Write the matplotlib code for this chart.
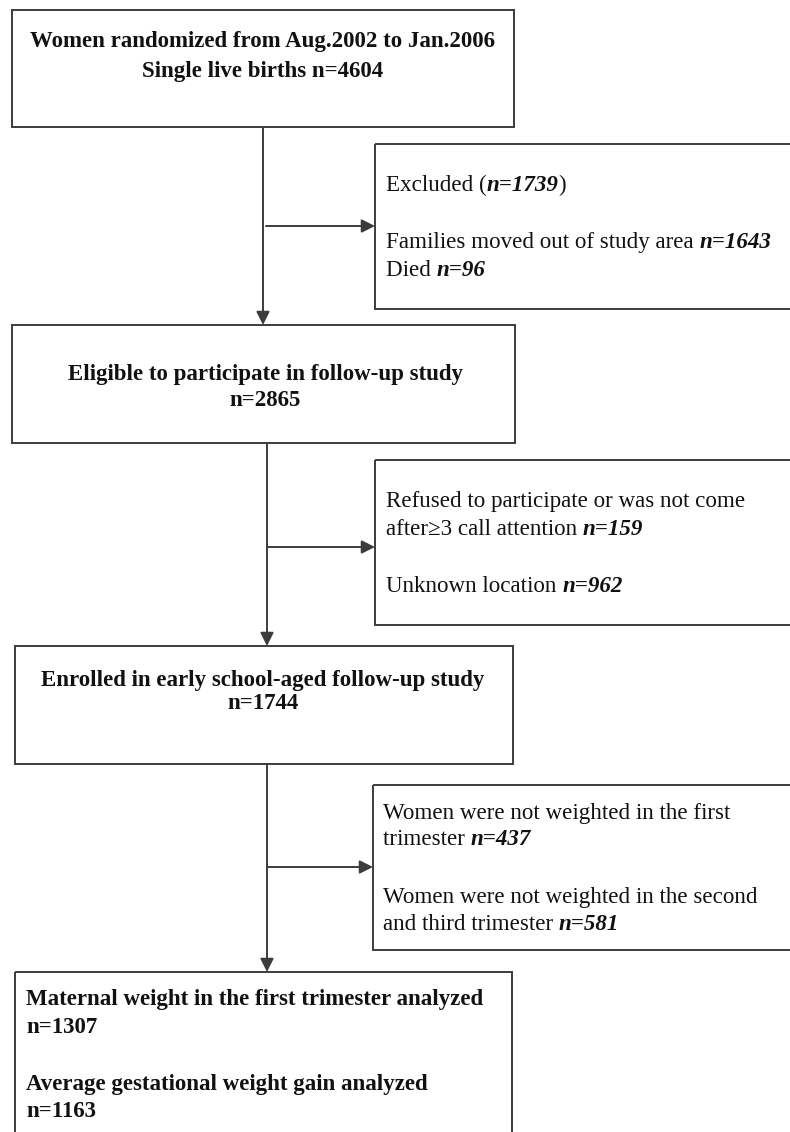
import matplotlib
matplotlib.use("Agg")
import matplotlib.pyplot as plt
from matplotlib.patches import Rectangle

# ---- data ----
randomized_n = 4604
excluded_n = 1739
moved_n = 1643
died_n = 96
eligible_n = 2865
refused_n = 159
unknown_n = 962
enrolled_n = 1744
no_first_n = 437
no_second_n = 581
analyzed_first_n = 1307
analyzed_gain_n = 1163

FAM = ['Liberation Serif', 'DejaVu Serif']
LC = '#3c3c3c'
W, H = 790, 1132

fig = plt.figure(figsize=(W / 100, H / 100), dpi=100)
ax = fig.add_axes([0, 0, 1, 1])
ax.set_xlim(0, W)
ax.set_ylim(H, 0)
ax.axis('off')
renderer = fig.canvas.get_renderer()


def box(x0, y0, x1, y1):
    ax.add_patch(Rectangle((x0, y0), x1 - x0, y1 - y0, fill=False,
                           edgecolor=LC, lw=1.4, clip_on=False))


def arrow(x0, y0, x1, y1):
    ax.annotate('', xy=(x1, y1), xytext=(x0, y0),
                arrowprops=dict(arrowstyle='-|>', color=LC, lw=1.4,
                                mutation_scale=20, shrinkA=0, shrinkB=0))


STY = {
    'r': dict(fontweight='normal', fontstyle='normal'),
    'b': dict(fontweight='bold', fontstyle='normal'),
    'bi': dict(fontweight='bold', fontstyle='italic'),
}


def runs(x, y, parts, size=15, ha='left'):
    arts = []
    for txt, st in parts:
        t = ax.text(0, y, txt, fontsize=size, family=FAM, va='baseline',
                    ha='left', color='#111111', **STY[st])
        arts.append(t)
    widths = [a.get_window_extent(renderer).width for a in arts]
    total = sum(widths)
    cx = x - total / 2 if ha == 'center' else x
    for a, w in zip(arts, widths):
        a.set_x(cx)
        cx += w


# ---- boxes ----
box(12, 10, 514, 127)
box(375, 144, 800, 309)
box(12, 325, 515, 443)
box(375, 460, 800, 625)
box(15, 646, 513, 764)
box(373, 785, 800, 950)
box(15, 972, 512, 1140)

# ---- connectors ----
arrow(263, 127, 263, 325)
arrow(266, 226, 375, 226)
arrow(267, 443, 267, 646)
arrow(267, 547, 375, 547)
arrow(267, 764, 267, 972)
arrow(267, 867, 373, 867)

# ---- texts ----
BS = 16.5
runs(263, 47, [('Women randomized from Aug.2002 to Jan.2006', 'b')], BS, 'center')
runs(263, 77, [(f'Single live births n={randomized_n}', 'b')], BS, 'center')

RS = 16.6
runs(386, 191, [('Excluded (', 'r'), (f'n={excluded_n}', 'bi'), (')', 'r')], RS)
runs(386, 248, [('Families moved out of study area ', 'r'), (f'n={moved_n}', 'bi')], RS)
runs(386, 276, [('Died ', 'r'), (f'n={died_n}', 'bi')], RS)

runs(265, 380, [('Eligible to participate in follow-up study', 'b')], BS, 'center')
runs(265, 406, [(f'n={eligible_n}', 'b')], BS, 'center')

runs(386, 507, [('Refused to participate or was not come', 'r')], RS)
runs(386, 535, [('after\u22653 call attention ', 'r'), (f'n={refused_n}', 'bi')], RS)
runs(386, 592, [('Unknown location ', 'r'), (f'n={unknown_n}', 'bi')], RS)

runs(263, 686, [('Enrolled in early school-aged follow-up study', 'b')], BS, 'center')
runs(263, 709, [(f'n={enrolled_n}', 'b')], BS, 'center')

runs(383, 819, [('Women were not weighted in the first', 'r')], RS)
runs(383, 845, [('trimester ', 'r'), (f'n={no_first_n}', 'bi')], RS)
runs(383, 903, [('Women were not weighted in the second', 'r')], RS)
runs(383, 930, [('and third trimester ', 'r'), (f'n={no_second_n}', 'bi')], RS)

runs(26, 1005, [('Maternal weight in the first trimester analyzed', 'b')], BS)
runs(26, 1033, [(f'n={analyzed_first_n}', 'b')], BS)
runs(26, 1090, [('Average gestational weight gain analyzed', 'b')], BS)
runs(26, 1117, [(f'n={analyzed_gain_n}', 'b')], BS)

fig.savefig('out.png', dpi=100)
